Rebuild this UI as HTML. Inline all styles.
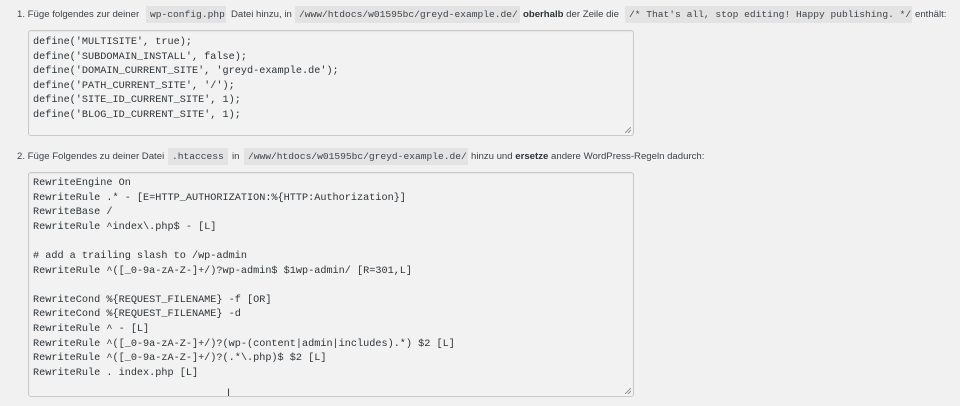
<!DOCTYPE html>
<html><head><meta charset="utf-8"><style>
body{margin:0;width:960px;height:406px;background:#f1f1f1;position:relative;overflow:hidden;font-family:"Liberation Sans",sans-serif;color:#3c434a}
.t{position:absolute;font-size:9.6px;white-space:nowrap;line-height:14px}
.c{position:absolute;background:#e3e3e3;font-family:"Liberation Mono",monospace;font-size:9.6px;white-space:nowrap;height:17px;line-height:17px;box-sizing:border-box;padding:0 4px;color:#3c434a}
.box{position:absolute;left:28px;width:604px;border:1px solid #c9c9c9;border-radius:3px;background:#f2f2f2;box-shadow:inset 0 1px 1px rgba(0,0,0,.06)}
pre{margin:0;position:absolute;left:4px;font-family:"Liberation Mono",monospace;font-size:10.2px;line-height:14.6px;color:#2c3338}
.g{position:absolute;right:2px;bottom:2px;width:6px;height:6px;background:linear-gradient(135deg,transparent 45%,#999 45%,#999 55%,transparent 55%,transparent 70%,#999 70%,#999 80%,transparent 80%)}
b{font-weight:bold;color:#2c3338}
</style></head><body>
<div class="t" style="left:17px;top:8px">1. Füge folgendes zur deiner</div>
<div class="c" style="left:146px;top:6px;width:80px">wp-config.php</div>
<div class="t" style="left:231px;top:8px">Datei hinzu, in</div>
<div class="c" style="left:295px;top:6px;width:225px">/www/htdocs/w01595bc/greyd-example.de/</div>
<div class="t" style="left:523px;top:8px"><b>oberhalb</b> der Zeile die</div>
<div class="c" style="left:625px;top:6px;width:287px">/* That's all, stop editing! Happy publishing. */</div>
<div class="t" style="left:915px;top:8px">enthält:</div>

<div class="box" style="top:30px;height:104px"><pre style="top:5px">define('MULTISITE', true);
define('SUBDOMAIN_INSTALL', false);
define('DOMAIN_CURRENT_SITE', 'greyd-example.de');
define('PATH_CURRENT_SITE', '/');
define('SITE_ID_CURRENT_SITE', 1);
define('BLOG_ID_CURRENT_SITE', 1);</pre><div class="g"></div></div>

<div class="t" style="left:17px;top:150px">2. Füge Folgendes zu deiner Datei</div>
<div class="c" style="left:168px;top:148px;width:60px">.htaccess</div>
<div class="t" style="left:232px;top:150px">in</div>
<div class="c" style="left:244px;top:148px;width:224px">/www/htdocs/w01595bc/greyd-example.de/</div>
<div class="t" style="left:471px;top:150px">hinzu und <b>ersetze</b> andere WordPress-Regeln dadurch:</div>

<div class="box" style="top:172px;height:223px"><pre style="top:4px">RewriteEngine On
RewriteRule .* - [E=HTTP_AUTHORIZATION:%{HTTP:Authorization}]
RewriteBase /
RewriteRule ^index\.php$ - [L]

# add a trailing slash to /wp-admin
RewriteRule ^([_0-9a-zA-Z-]+/)?wp-admin$ $1wp-admin/ [R=301,L]

RewriteCond %{REQUEST_FILENAME} -f [OR]
RewriteCond %{REQUEST_FILENAME} -d
RewriteRule ^ - [L]
RewriteRule ^([_0-9a-zA-Z-]+/)?(wp-(content|admin|includes).*) $2 [L]
RewriteRule ^([_0-9a-zA-Z-]+/)?(.*\.php)$ $2 [L]
RewriteRule . index.php [L]</pre><div class="g"></div></div>
<div class="t" style="left:227px;top:386px;font-size:11px">I</div>
</body></html>
